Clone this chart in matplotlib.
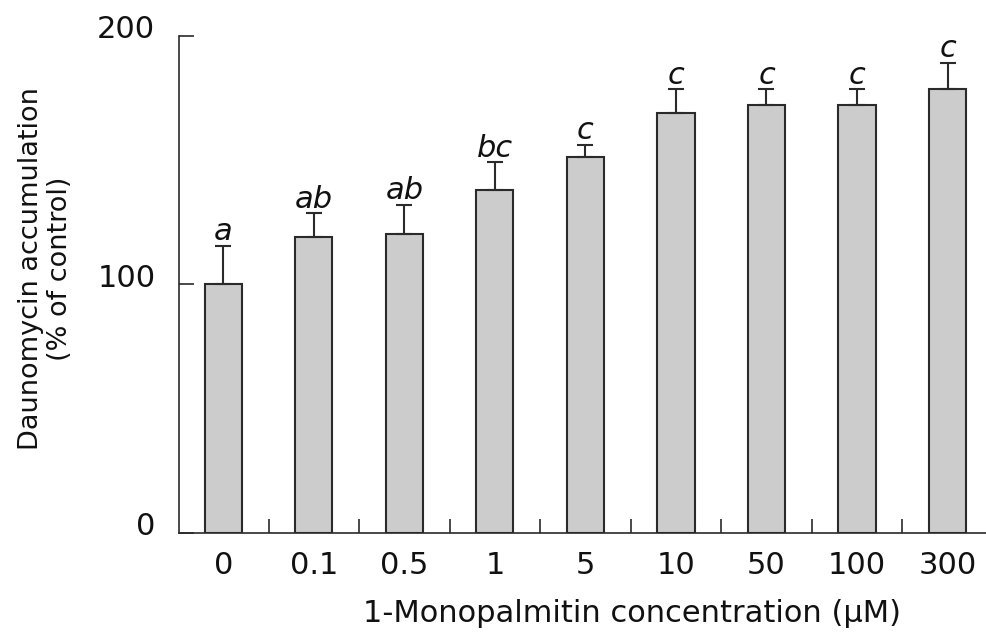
import matplotlib
matplotlib.use("Agg")
import matplotlib.pyplot as plt
import matplotlib.transforms as mtransforms
import numpy as np

plt.rcParams["font.family"] = ["DejaVu Sans"]

concentrations = ["0", "0.1", "0.5", "1", "5", "10", "50", "100", "300"]
accumulation = [100, 119, 120, 138, 151, 169, 172, 172, 178.5]
errors = [15.5, 9.5, 12, 11, 5, 9.5, 6.5, 6.5, 10.5]
letters = ["a", "ab", "ab", "bc", "c", "c", "c", "c", "c"]

dark = "#2a2a2a"
txt = "#111111"
fs = 22

fig = plt.figure(figsize=(9.86, 6.32), dpi=100)
ax = fig.add_axes([0.1815, 0.1574, 0.83, 0.7861])

x = np.arange(len(concentrations))
ax.bar(x, accumulation, width=0.41, color="#cccccc", edgecolor=dark,
       linewidth=1.5, zorder=2)
ax.errorbar(x, accumulation, yerr=[np.zeros(len(errors)), errors], fmt="none",
            ecolor=dark, elinewidth=1.5, capsize=6, capthick=1.5, zorder=3)

for xi, val, err, lab in zip(x, accumulation, errors, letters):
    ax.annotate(lab, (xi, val + err), xytext=(0, 4), textcoords="offset points",
                ha="center", va="baseline", fontsize=fs, style="italic",
                color=txt, annotation_clip=False)

ax.set_xlim(-0.49, 8.55)
ax.set_ylim(0, 200)
ax.set_yticks([0, 100, 200])
ax.set_xticks(x)
ax.set_xticklabels(concentrations)
ax.set_xticks(x[:-1] + 0.5, minor=True)

ax.tick_params(axis="y", direction="in", length=11, width=1.2, color=dark,
               labelsize=fs, pad=17, labelcolor=txt)
ax.tick_params(axis="x", which="major", length=0, labelsize=fs, pad=13,
               labelcolor=txt)
ax.tick_params(axis="x", which="minor", direction="in", length=10, width=1.2,
               color=dark)

# y tick labels sit a little above their ticks in the original
shift = mtransforms.ScaledTranslation(0, 9 / 100, fig.dpi_scale_trans)
for lbl in ax.get_yticklabels():
    lbl.set_transform(lbl.get_transform() + shift)

for side in ["top", "right"]:
    ax.spines[side].set_visible(False)
for side in ["left", "bottom"]:
    ax.spines[side].set_color(dark)
    ax.spines[side].set_linewidth(1.2)

ax.set_xlabel("1-Monopalmitin concentration (\u00b5M)", fontsize=fs,
              color=txt)
ax.xaxis.set_label_coords(0.553, -0.134)
fig.text(0.046, 0.575, "Daunomycin accumulation\n(% of control)", fontsize=19.5,
         color=txt, rotation=90, ha="center", va="center",
         multialignment="center", linespacing=1.15)

fig.savefig("out.png", dpi=100)
